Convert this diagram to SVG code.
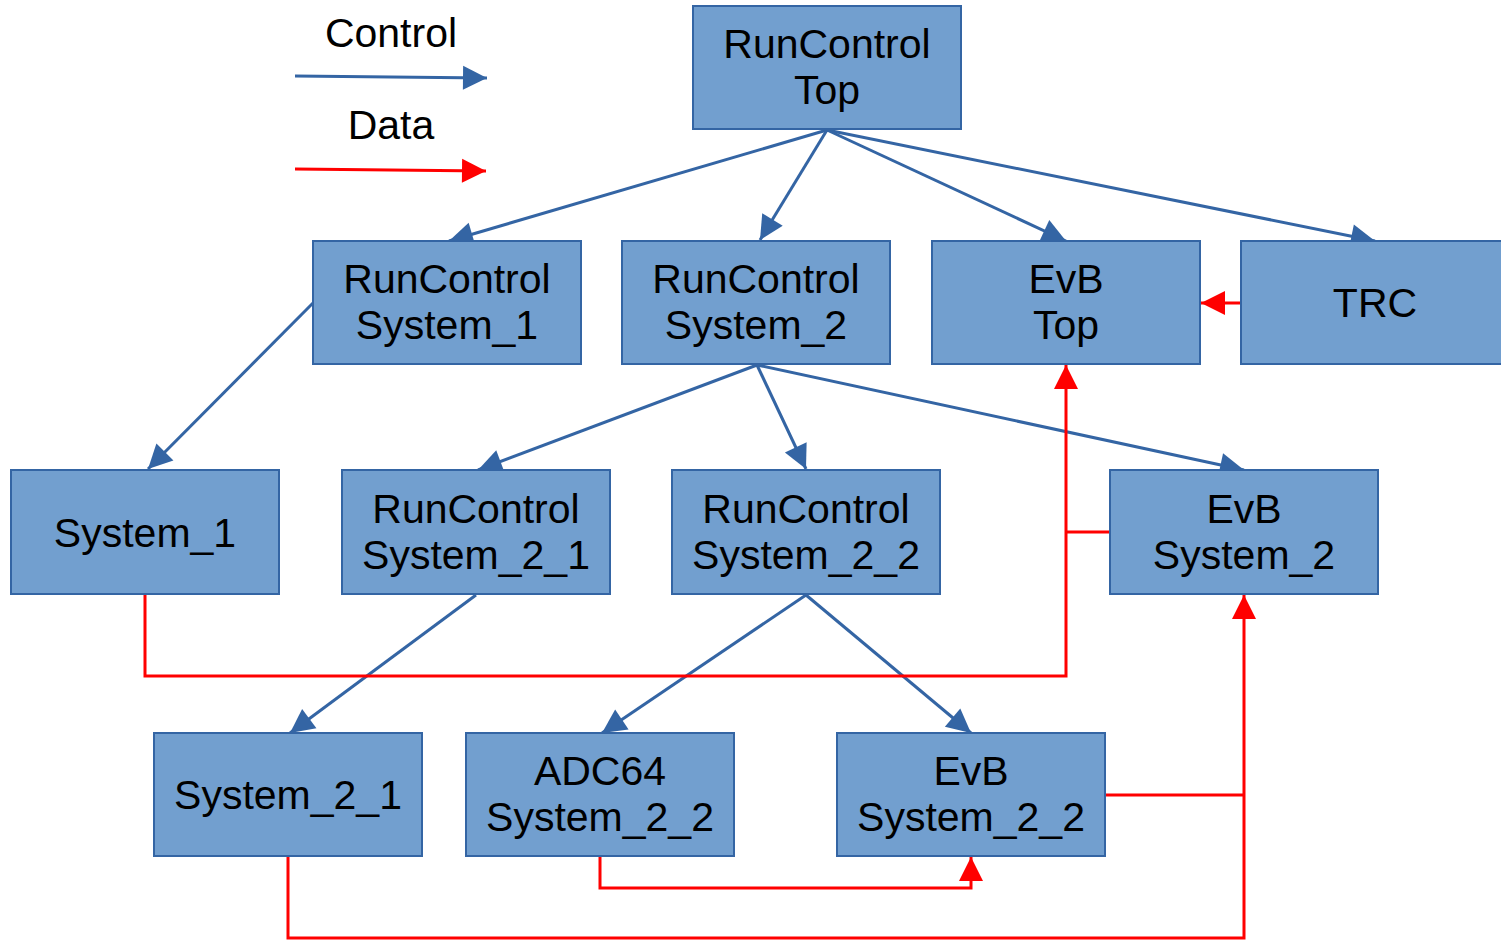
<svg xmlns="http://www.w3.org/2000/svg" width="1501" height="940" viewBox="0 0 1501 940">
<style>
.n rect{fill:#729fcf;stroke:#3465a4;stroke-width:2}
.n text,.lg{font-family:"Liberation Sans",Arial,sans-serif;font-size:41px;fill:#000;text-anchor:middle}
.c{stroke:#3465a4;stroke-width:3;fill:none;marker-end:url(#ab)}
.d{stroke:#ff0000;stroke-width:3;fill:none}
.da{marker-end:url(#ar)}
</style>
<defs>
<marker id="ab" markerUnits="userSpaceOnUse" markerWidth="26" markerHeight="26" viewBox="0 0 26 26" refX="25" refY="13" orient="auto"><path d="M1,1 L25,13 L1,25 Z" fill="#3465a4"/></marker>
<marker id="ar" markerUnits="userSpaceOnUse" markerWidth="26" markerHeight="26" viewBox="0 0 26 26" refX="25" refY="13" orient="auto"><path d="M1,1 L25,13 L1,25 Z" fill="#ff0000"/></marker>
</defs>
<rect width="1501" height="940" fill="#fff"/>
<g id="legend">
<text class="lg" x="391" y="47">Control</text>
<line class="c" x1="295" y1="76" x2="487" y2="78"/>
<text class="lg" x="391" y="139">Data</text>
<line class="d da" x1="295" y1="169" x2="486" y2="171"/>
</g>
<g id="connectors">
<line class="c" x1="827" y1="130" x2="449" y2="241"/>
<line class="c" x1="827" y1="130" x2="760" y2="240"/>
<line class="c" x1="827" y1="130" x2="1066" y2="241"/>
<line class="c" x1="827" y1="130" x2="1375" y2="241"/>
<line class="c" x1="313" y1="303" x2="148" y2="469"/>
<line class="c" x1="757" y1="365" x2="478" y2="470"/>
<line class="c" x1="757" y1="365" x2="806" y2="469"/>
<line class="c" x1="757" y1="365" x2="1244" y2="470"/>
<line class="c" x1="476" y1="595" x2="290" y2="733"/>
<line class="c" x1="806" y1="595" x2="602" y2="733"/>
<line class="c" x1="806" y1="595" x2="971" y2="733"/>
<line class="d da" x1="1241" y1="303" x2="1201" y2="303"/>
<polyline class="d da" points="145,595 145,676 1066,676 1066,365"/>
<line class="d" x1="1110" y1="532" x2="1066" y2="532"/>
<polyline class="d da" points="288,857 288,938 1244,938 1244,595"/>
<line class="d" x1="1106" y1="795" x2="1244" y2="795"/>
<polyline class="d da" points="600,857 600,888 971,888 971,857"/>
</g>
<g id="rc_top" class="n"><rect x="693" y="6" width="268" height="123"/><text x="827" y="58">RunControl</text><text x="827" y="104">Top</text></g>
<g id="rc_s1" class="n"><rect x="313" y="241" width="268" height="123"/><text x="447" y="293">RunControl</text><text x="447" y="339">System_1</text></g>
<g id="rc_s2" class="n"><rect x="622" y="241" width="268" height="123"/><text x="756" y="293">RunControl</text><text x="756" y="339">System_2</text></g>
<g id="evb_top" class="n"><rect x="932" y="241" width="268" height="123"/><text x="1066" y="293">EvB</text><text x="1066" y="339">Top</text></g>
<g id="trc" class="n"><rect x="1241" y="241" width="268" height="123"/><text x="1375" y="317">TRC</text></g>
<g id="s1" class="n"><rect x="11" y="470" width="268" height="124"/><text x="145" y="547">System_1</text></g>
<g id="rc_s21" class="n"><rect x="342" y="470" width="268" height="124"/><text x="476" y="523">RunControl</text><text x="476" y="569">System_2_1</text></g>
<g id="rc_s22" class="n"><rect x="672" y="470" width="268" height="124"/><text x="806" y="523">RunControl</text><text x="806" y="569">System_2_2</text></g>
<g id="evb_s2" class="n"><rect x="1110" y="470" width="268" height="124"/><text x="1244" y="523">EvB</text><text x="1244" y="569">System_2</text></g>
<g id="s21" class="n"><rect x="154" y="733" width="268" height="123"/><text x="288" y="809">System_2_1</text></g>
<g id="adc64" class="n"><rect x="466" y="733" width="268" height="123"/><text x="600" y="785">ADC64</text><text x="600" y="831">System_2_2</text></g>
<g id="evb_s22" class="n"><rect x="837" y="733" width="268" height="123"/><text x="971" y="785">EvB</text><text x="971" y="831">System_2_2</text></g>
</svg>
